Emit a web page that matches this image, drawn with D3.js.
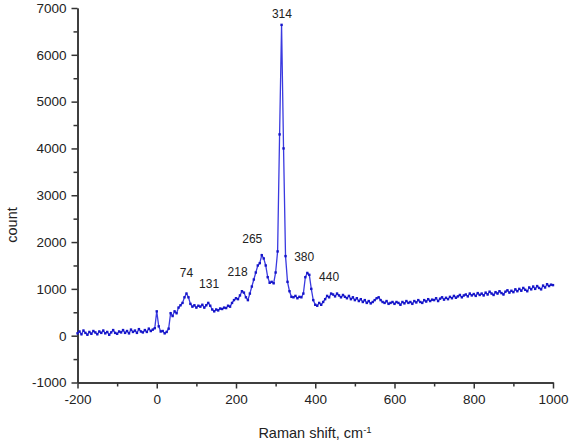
<!DOCTYPE html>
<html>
<head>
<meta charset="utf-8">
<script src="https://cdn.jsdelivr.net/npm/d3@7"></script>
<style>
  body { margin: 0; background: #fff; }
  text { font-family: "Liberation Sans", Arial, sans-serif; fill: #222; }
</style>
</head>
<body>
<div id="chart"></div>
<script>
// Raman spectrum
// ====================================
// spectrum sampled every 5 cm-1 from -200 to 1000
var shiftStart = -200;
var shiftStep = 5;
var counts = [
  // -200 .. -105
  50, 90, 30, 110, 60, 20, 80, 40, 100, 70, 30, 90, 60, 110, 50, 80, 20, 70, 120, 60,
  // -100 .. -5
  40, 90, 70, 120, 60, 100, 50, 130, 80, 110, 60, 140, 90, 70, 120, 80, 150, 100, 130, 160,
  // 0 .. 95
  520, 200, 90, 100, 50, 80, 150, 480, 420, 520, 480, 600, 650, 700, 820, 900, 820, 680, 620, 650,
  // 100 .. 195
  600, 640, 620, 660, 600, 650, 700, 640, 560, 520, 560, 540, 580, 570, 600, 590, 640, 620, 700, 760,
  // 200 .. 295
  800, 780, 860, 950, 920, 820, 760, 900, 1050, 1200, 1350, 1500, 1550, 1720, 1650, 1500, 1250, 1130, 1150, 1120,
  // 300 .. 395
  1350, 1800, 4300, 6640, 4000, 1700, 1150, 950, 830, 820, 850, 800, 830, 820, 900, 1250, 1340, 1300, 1000, 760,
  // 400 .. 495
  660, 640, 700, 660, 720, 780, 850, 820, 900, 880, 840, 900, 860, 820, 870, 830, 800, 850, 780, 820,
  // 500 .. 595
  760, 800, 740, 780, 720, 760, 700, 740, 690, 720, 760, 800, 820, 760, 720, 700, 740, 680, 700, 720,
  // 600 .. 695
  680, 720, 700, 660, 720, 690, 740, 700, 720, 680, 740, 710, 760, 720, 700, 760, 730, 780, 740, 770,
  // 700 .. 795
  760, 800, 740, 790, 820, 770, 810, 780, 830, 800, 850, 810, 840, 870, 820, 860, 880, 840, 900, 860,
  // 800 .. 895
  890, 850, 910, 870, 900, 860, 920, 880, 940, 900, 870, 930, 900, 950, 910, 880, 940, 970, 920, 960,
  // 900 .. 1000
  930, 990, 950, 1000, 960, 1020, 980, 950, 1030, 990, 1050, 1000, 1060, 1020, 990, 1070, 1030, 1100, 1060, 1090, 1080
];

// peak annotations: text, and where the label sits (data units)
var peakNames = ["74", "131", "218", "265", "314", "380", "440"];
var peakLabelShift = [75, 132, 204, 241, 316, 372, 435];
var peakLabelCount = [1350, 1100, 1370, 2060, 6880, 1680, 1260];

// axis ticks
var xTicks = [-200, 0, 200, 400, 600, 800, 1000];
var xMinor = [-100, 100, 300, 500, 700, 900];
var yTicks = [-1000, 0, 1000, 2000, 3000, 4000, 5000, 6000, 7000];
var yMinor = [-500, 500, 1500, 2500, 3500, 4500, 5500, 6500];

// Sizes
// =====
var width = 569;
var height = 446;
var margin = { top: 8, right: 16, bottom: 63.5, left: 77.5 };

var svg = d3.select("#chart")
    .append("svg")
    .attr("width", width)
    .attr("height", height);

var x = d3.scaleLinear()
    .domain([-200, 1000])
    .range([margin.left, width - margin.right]);

var y = d3.scaleLinear()
    .domain([-1000, 7000])
    .range([height - margin.bottom, margin.top]);

var spectrum = counts.map(function(c, i) {
    return { shift: shiftStart + i * shiftStep, count: c };
});

// plain numbers, hyphen minus, no thousands separator
function plain(d) { return String(d); }

// Axes
// ====
function styleAxis(g) {
    g.selectAll("path, line").attr("stroke", "#333").attr("stroke-width", 1.5);
    g.selectAll("text").attr("font-size", "13.5px").attr("fill", "#222")
        .attr("font-family", "'Liberation Sans', Arial, sans-serif");
}

svg.append("g")
    .attr("transform", "translate(0," + y(-1000) + ")")
    .call(d3.axisBottom(x).tickValues(xMinor).tickSize(4).tickSizeOuter(0).tickFormat(""))
    .call(styleAxis);

svg.append("g")
    .attr("transform", "translate(0," + y(-1000) + ")")
    .call(d3.axisBottom(x).tickValues(xTicks).tickSize(6).tickSizeOuter(0).tickPadding(6).tickFormat(plain))
    .call(styleAxis);

svg.append("g")
    .attr("transform", "translate(" + x(-200) + ",0)")
    .call(d3.axisLeft(y).tickValues(yMinor).tickSize(4).tickSizeOuter(0).tickFormat(""))
    .call(styleAxis);

svg.append("g")
    .attr("transform", "translate(" + x(-200) + ",0)")
    .call(d3.axisLeft(y).tickValues(yTicks).tickSize(6).tickSizeOuter(0).tickPadding(5).tickFormat(plain))
    .call(styleAxis);

// Axis titles
var xTitle = svg.append("text")
    .attr("x", 315)
    .attr("y", 438)
    .attr("text-anchor", "middle")
    .attr("font-size", "14.5px");
xTitle.append("tspan").text("Raman shift, cm");
xTitle.append("tspan").attr("dy", -5).attr("font-size", "9.5px").text("-1");

svg.append("text")
    .attr("transform", "translate(17,225)rotate(-90)")
    .attr("text-anchor", "middle")
    .attr("font-size", "14.5px")
    .text("count");

// Spectrum
// ========
var line = d3.line()
    .x(function(d) { return x(d.shift); })
    .y(function(d) { return y(d.count); });

svg.append("path")
    .datum(spectrum)
    .attr("fill", "none")
    .attr("stroke", "#3a3ae0")
    .attr("stroke-width", 1.3)
    .attr("d", line);

svg.selectAll(".pt")
    .data(spectrum)
    .enter()
    .append("rect")
    .attr("class", "pt")
    .attr("x", function(d) { return x(d.shift) - 1.2; })
    .attr("y", function(d) { return y(d.count) - 1.2; })
    .attr("width", 2.4)
    .attr("height", 2.4)
    .attr("fill", "#1515c8");

// Peak labels
svg.selectAll(".peak")
    .data(peakNames)
    .enter()
    .append("text")
    .attr("class", "peak")
    .attr("x", function(d, i) { return x(peakLabelShift[i]); })
    .attr("y", function(d, i) { return y(peakLabelCount[i]); })
    .attr("dy", "0.35em")
    .attr("text-anchor", "middle")
    .attr("font-size", "12px")
    .text(function(d) { return d; });
</script>
</body>
</html>
